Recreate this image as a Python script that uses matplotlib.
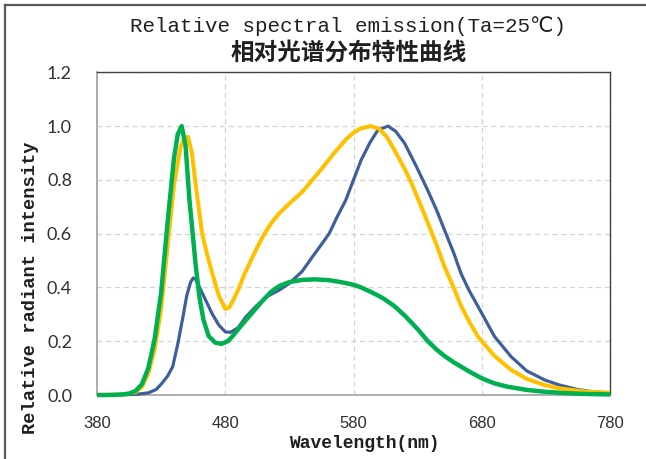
import matplotlib
matplotlib.use("Agg")
import matplotlib.pyplot as plt
from matplotlib.lines import Line2D

# ---- data ----
wl_green = [380, 390, 400, 405, 410, 415, 420, 425, 430, 435, 440, 443, 446, 449, 452, 455, 457,
            460, 463, 467, 472, 477, 482, 486, 491, 500, 509, 516, 522, 530, 540, 550, 561, 570,
            580, 586, 595, 603, 612, 620, 630, 638, 645, 651, 658, 664, 670, 680, 690, 700, 715,
            729, 745, 760, 780]
green = [0.0, 0.0, 0.002, 0.005, 0.015, 0.04, 0.10, 0.21, 0.38, 0.64, 0.88, 0.97, 1.0, 0.93, 0.73,
         0.58, 0.48, 0.36, 0.28, 0.22, 0.195, 0.19, 0.20, 0.22, 0.25, 0.30, 0.35, 0.385, 0.405,
         0.42, 0.428, 0.43, 0.427, 0.42, 0.41, 0.40, 0.38, 0.36, 0.33, 0.295, 0.245, 0.20, 0.168,
         0.145, 0.122, 0.105, 0.088, 0.062, 0.043, 0.031, 0.019, 0.012, 0.007, 0.004, 0.002]

wl_yellow = [380, 400, 410, 415, 420, 425, 430, 435, 440, 445, 448, 451, 454, 457, 460, 462, 466,
             470, 475, 480, 483, 486, 490, 495, 500, 505, 510, 516, 522, 530, 540, 548, 555, 565,
             574, 580, 585, 593, 600, 606, 612, 620, 625, 632, 638, 645, 651, 658, 664, 670, 677,
             690, 703, 715, 729, 740, 760, 780]
yellow = [0.0, 0.002, 0.01, 0.03, 0.08, 0.17, 0.32, 0.55, 0.78, 0.92, 0.955, 0.96, 0.90, 0.78,
          0.67, 0.60, 0.52, 0.45, 0.37, 0.32, 0.325, 0.35, 0.39, 0.45, 0.50, 0.55, 0.595, 0.64,
          0.675, 0.712, 0.755, 0.80, 0.84, 0.90, 0.95, 0.975, 0.99, 1.0, 0.99, 0.96, 0.91, 0.84,
          0.79, 0.71, 0.64, 0.555, 0.477, 0.40, 0.33, 0.275, 0.217, 0.145, 0.093, 0.06, 0.037,
          0.025, 0.013, 0.008]

wl_blue = [380, 410, 420, 426, 430, 435, 439, 443, 447, 450, 453, 455, 457, 460, 465, 470, 475,
           480, 484, 490, 496, 504, 512, 522, 530, 540, 548, 555, 561, 567, 574, 580, 586, 593,
           599, 607, 613, 620, 629, 638, 645, 651, 658, 664, 670, 677, 690, 703, 715, 729, 740,
           754, 765, 780]
blue = [0.0, 0.002, 0.008, 0.02, 0.04, 0.07, 0.105, 0.19, 0.29, 0.37, 0.42, 0.435, 0.43, 0.40,
        0.35, 0.30, 0.26, 0.235, 0.233, 0.25, 0.29, 0.33, 0.365, 0.39, 0.415, 0.46, 0.514, 0.56,
        0.60, 0.66, 0.725, 0.80, 0.874, 0.94, 0.985, 1.0, 0.98, 0.935, 0.85, 0.76, 0.685, 0.613,
        0.53, 0.45, 0.39, 0.33, 0.217, 0.142, 0.09, 0.056, 0.038, 0.021, 0.013, 0.007]

x_ticks = [380, 480, 580, 680, 780]
y_ticks = [0.0, 0.2, 0.4, 0.6, 0.8, 1.0, 1.2]

title_en = "Relative spectral emission(Ta=25\u2103)"
title_cn = "相对光谱分布特性曲线"
xlabel = "Wavelength(nm)"
ylabel = "Relative radiant intensity"

# ---- figure ----
W, H = 646, 459
fig = plt.figure(figsize=(W / 100, H / 100), dpi=100)
fig.patch.set_facecolor("white")

left, right, top, bottom = 97, 610, 72.3, 395
ax = fig.add_axes([left / W, 1 - bottom / H, (right - left) / W, (bottom - top) / H])

ax.plot(wl_blue, blue, color="#3E5F9B", lw=2.3, clip_on=False, solid_joinstyle="round",
        solid_capstyle="butt", zorder=3)
ax.plot(wl_yellow, yellow, color="#FFC000", lw=2.9, clip_on=False, solid_joinstyle="round",
        solid_capstyle="butt", zorder=4)
ax.plot(wl_green, green, color="#00B050", lw=3.2, clip_on=False, solid_joinstyle="round",
        solid_capstyle="butt", zorder=5)

ax.set_xlim(380, 780)
ax.set_ylim(0, 1.2)
ax.set_xticks(x_ticks)
ax.set_yticks(y_ticks)
ax.set_xticklabels([str(v) for v in x_ticks], fontfamily="Liberation Sans", fontsize=12,
                   color="#303030")
ax.set_yticklabels([f"{v:.1f}" for v in y_ticks], fontfamily="Lato", fontsize=13,
                   color="#303030")
ax.tick_params(axis="both", length=0)
ax.tick_params(axis="x", pad=15)
ax.tick_params(axis="y", pad=18)

ax.grid(True, color="#D4D4D4", linestyle=(0, (4, 3)), linewidth=0.9)
ax.set_axisbelow(True)

for s in ["left", "bottom"]:
    ax.spines[s].set_color("#A0A0A0")
    ax.spines[s].set_linewidth(1.2)
for s in ["top", "right"]:
    ax.spines[s].set_color("#404040")
    ax.spines[s].set_linewidth(1.0)

# titles and labels
fig.text(348 / W, 1 - 26 / H, title_en, ha="center", va="center",
         fontfamily=["Liberation Mono", "DejaVu Sans", "Noto Sans CJK SC"], fontsize=15,
         color="#202020")
fig.text(349 / W, 1 - 53 / H, title_cn, ha="center", va="center",
         fontfamily=["Noto Sans CJK SC", "DejaVu Sans"], fontsize=17, fontweight="bold",
         color="#202020")
fig.text(364 / W, 1 - 443 / H, xlabel, ha="center", va="center",
         fontfamily="Liberation Mono", fontsize=13, fontweight="bold", color="#202020")
fig.text(31 / W, 1 - 288 / H, ylabel, ha="center", va="center", rotation=90,
         fontfamily="Liberation Mono", fontsize=13.5, fontweight="bold", color="#202020")

# outer frame lines (top and left)
fig.add_artist(Line2D([5 / W, 1], [1 - 5 / H, 1 - 5 / H], transform=fig.transFigure,
                      color="#5A5A5A", lw=1.6))
fig.add_artist(Line2D([5 / W, 5 / W], [0, 1 - 5 / H], transform=fig.transFigure,
                      color="#5A5A5A", lw=1.6))

fig.savefig("out.png", dpi=100)
